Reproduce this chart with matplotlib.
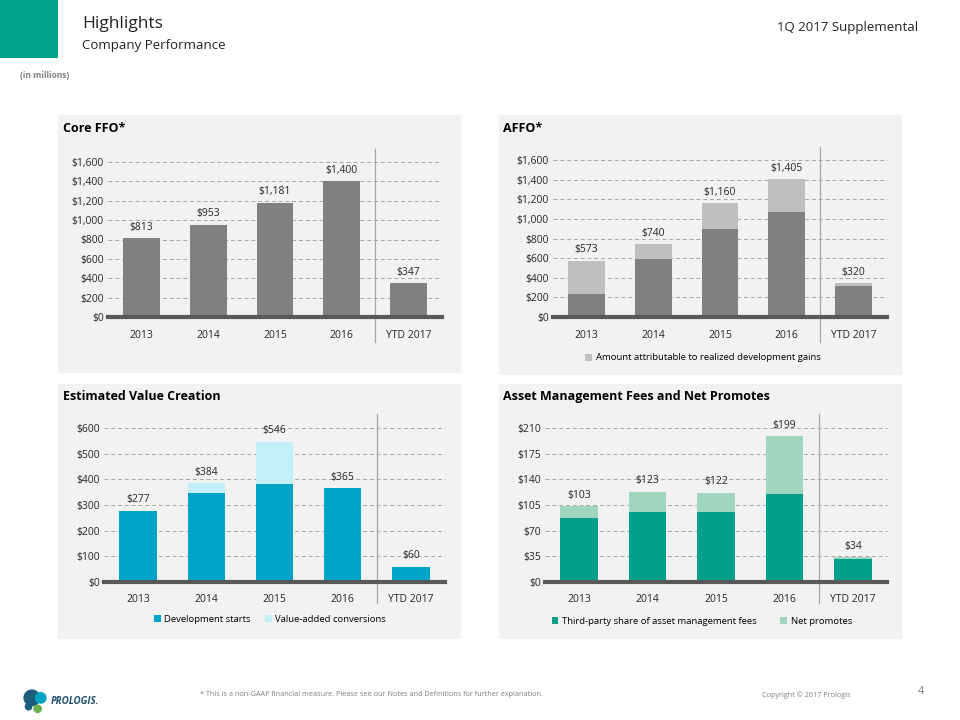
import matplotlib
matplotlib.use("Agg")
import matplotlib.pyplot as plt
from matplotlib.patches import Rectangle, Circle

plt.rcParams['font.family'] = ['Open Sans', 'DejaVu Sans']

W, H = 960, 720

years = ['2013', '2014', '2015', '2016', 'YTD 2017']

core_ffo = [813, 953, 1181, 1400, 347]

affo_base = [235, 595, 895, 1070, 320]
affo_gains = [338, 145, 265, 335, 25]
affo_labels = [573, 740, 1160, 1405, 320]

dev_starts = [277, 345, 380, 365, 60]
value_added = [0, 39, 166, 0, 0]
evc_labels = [277, 384, 546, 365, 60]

mgmt_fees = [87, 96, 96, 120, 31]
net_promotes = [16, 27, 26, 79, 3]
amf_labels = [103, 123, 122, 199, 34]

GREY_BAR = '#808080'
GREY_LIGHT = '#bfbfbf'
BLUE = '#00a4c6'
BLUE_LIGHT = '#c4eff9'
GREEN = '#00a08a'
GREEN_LIGHT = '#9fd6bd'
TEAL = '#00a38b'
PANEL = '#f2f2f2'


def box(x0, y0, x1, y1):
    return [x0 / W, 1 - y1 / H, (x1 - x0) / W, (y1 - y0) / H]


def fx(x):
    return x / W


def fy(y):
    return 1 - y / H


fig = plt.figure(figsize=(9.6, 7.2), dpi=100)
fig.patch.set_facecolor('white')

# header
fig.patches.append(Rectangle((0, fy(58)), fx(58), 58 / H, transform=fig.transFigure,
                             facecolor=TEAL, edgecolor='none'))
fig.text(fx(82), fy(24), 'Highlights', fontsize=12.5, color='#222222', va='center')
fig.text(fx(82), fy(46), 'Company Performance', fontsize=9.5, color='#222222', va='center')
fig.text(fx(918), fy(28), '1Q 2017 Supplemental', fontsize=9.5, color='#222222',
         va='center', ha='right')
fig.text(fx(20), fy(75), '(in millions)', fontsize=6, color='#7f7f7f', va='center',
         fontweight='bold')

# panels (background boxes behind each chart)
panels = [(58, 115, 461, 373), (499, 115, 902, 375), (58, 384, 461, 639), (499, 384, 902, 639)]
for x0, y0, x1, y1 in panels:
    fig.patches.append(Rectangle((fx(x0), fy(y1)), (x1 - x0) / W, (y1 - y0) / H,
                                 transform=fig.transFigure, facecolor=PANEL,
                                 edgecolor='none', zorder=-5))

titles = [('Core FFO*', 63, 128), ('AFFO*', 503, 128),
          ('Estimated Value Creation', 63, 396), ('Asset Management Fees and Net Promotes', 503, 396)]
for t, x, y in titles:
    fig.text(fx(x), fy(y), t, fontsize=9, fontweight='bold', color='black', va='center')


def setup(ax, ymax, step, fmt, sep_lo, sep_hi):
    ax.set_facecolor('none')
    ax.set_xlim(-0.5, 4.5)
    ax.set_ylim(0, ymax)
    ticks = list(range(0, ymax + 1, step))
    ax.set_yticks(ticks)
    ax.set_yticklabels([fmt(v) for v in ticks])
    ax.set_xticks(range(5))
    ax.set_xticklabels(years)
    for s in ax.spines.values():
        s.set_visible(False)
    ax.tick_params(length=0, labelsize=7.5, colors='#262626')
    ax.tick_params(axis='x', pad=9)
    ax.tick_params(axis='y', pad=3)
    for v in ticks[1:]:
        ax.axhline(v, color='#a6a6a6', lw=0.7, ls=(0, (4, 3)), zorder=1, clip_on=False)
    ax.axhline(0, color='#595959', lw=3, zorder=4, clip_on=False)
    ax.axvline(3.5, ymin=sep_lo, ymax=sep_hi, color='#a6a6a6', lw=0.9, clip_on=False)


def labels(ax, tops, vals, off=4):
    for i, (t, v) in enumerate(zip(tops, vals)):
        ax.annotate('${:,}'.format(v), (i, t), xytext=(0, off), textcoords='offset points',
                    ha='center', va='bottom', fontsize=7.5, color='#262626')


money = lambda v: '${:,}'.format(v)
x = range(5)
bw = 0.55

# Core FFO
ax1 = fig.add_axes(box(108, 162, 442, 317))
setup(ax1, 1600, 200, money, -0.16, 1.085)
ax1.bar(x, core_ffo, width=bw, color=GREY_BAR, zorder=3)
labels(ax1, core_ffo, core_ffo)

# AFFO
ax2 = fig.add_axes(box(553, 160, 887, 317))
setup(ax2, 1600, 200, money, -0.16, 1.085)
ax2.bar(x, affo_base, width=bw, color=GREY_BAR, zorder=3)
ax2.bar(x, affo_gains, width=bw, bottom=affo_base, color=GREY_LIGHT, zorder=3,
        label='Amount attributable to realized development gains')
labels(ax2, [a + b for a, b in zip(affo_base, affo_gains)], affo_labels)
ax2.legend(loc='center', bbox_to_anchor=(fx(703), fy(358)), bbox_transform=fig.transFigure,
           frameon=False, fontsize=6.8, handlelength=0.7, handleheight=0.7, handletextpad=0.4)

# Estimated Value Creation
ax3 = fig.add_axes(box(104, 428, 445, 582))
setup(ax3, 600, 100, money, -0.135, 1.09)
ax3.bar(x, dev_starts, width=bw, color=BLUE, zorder=3, label='Development starts')
ax3.bar(x, value_added, width=bw, bottom=dev_starts, color=BLUE_LIGHT, zorder=3,
        label='Value-added conversions')
labels(ax3, [a + b for a, b in zip(dev_starts, value_added)], evc_labels)
ax3.legend(loc='center', bbox_to_anchor=(fx(270), fy(619)), bbox_transform=fig.transFigure,
           frameon=False, fontsize=6.8, ncol=2, handlelength=0.7, handleheight=0.7,
           handletextpad=0.4, columnspacing=1.5)

# Asset Management Fees and Net Promotes
ax4 = fig.add_axes(box(545, 428, 887, 582))
setup(ax4, 210, 35, money, -0.135, 1.09)
ax4.bar(x, mgmt_fees, width=bw, color=GREEN, zorder=3,
        label='Third-party share of asset management fees')
ax4.bar(x, net_promotes, width=bw, bottom=mgmt_fees, color=GREEN_LIGHT, zorder=3,
        label='Net promotes')
labels(ax4, [a + b for a, b in zip(mgmt_fees, net_promotes)], amf_labels)
ax4.legend(loc='center', bbox_to_anchor=(fx(702), fy(621)), bbox_transform=fig.transFigure,
           frameon=False, fontsize=6.8, ncol=2, handlelength=0.7, handleheight=0.7,
           handletextpad=0.4, columnspacing=2.5)

# footer
fig.text(fx(200), fy(695), '* This is a non-GAAP financial measure. Please see our Notes and '
         'Definitions for further explanation.', fontsize=5.2, color='#7f7f7f', va='center')
fig.text(fx(762), fy(695), 'Copyright \u00a9 2017 Prologis', fontsize=5.2, color='#7f7f7f',
         va='center')
fig.text(fx(918), fy(691), '4', fontsize=8, color='#7f7f7f', va='center')

# logo
logo = fig.add_axes(box(22, 688, 48, 714))
logo.set_xlim(0, 1)
logo.set_ylim(0, 1)
logo.axis('off')
logo.add_patch(Circle((0.38, 0.62), 0.3, color='#1d5c7a'))
logo.add_patch(Circle((0.72, 0.62), 0.2, color='#00a3c6'))
logo.add_patch(Circle((0.6, 0.2), 0.14, color='#6ab04c'))
logo.add_patch(Circle((0.25, 0.28), 0.12, color='#1d5c7a'))
fig.text(fx(51), fy(702), 'PROLOGIS.', fontsize=7, fontweight='bold', style='italic',
         color='#1d4f6e', va='center')

fig.savefig('out.png', dpi=100, facecolor='white')
